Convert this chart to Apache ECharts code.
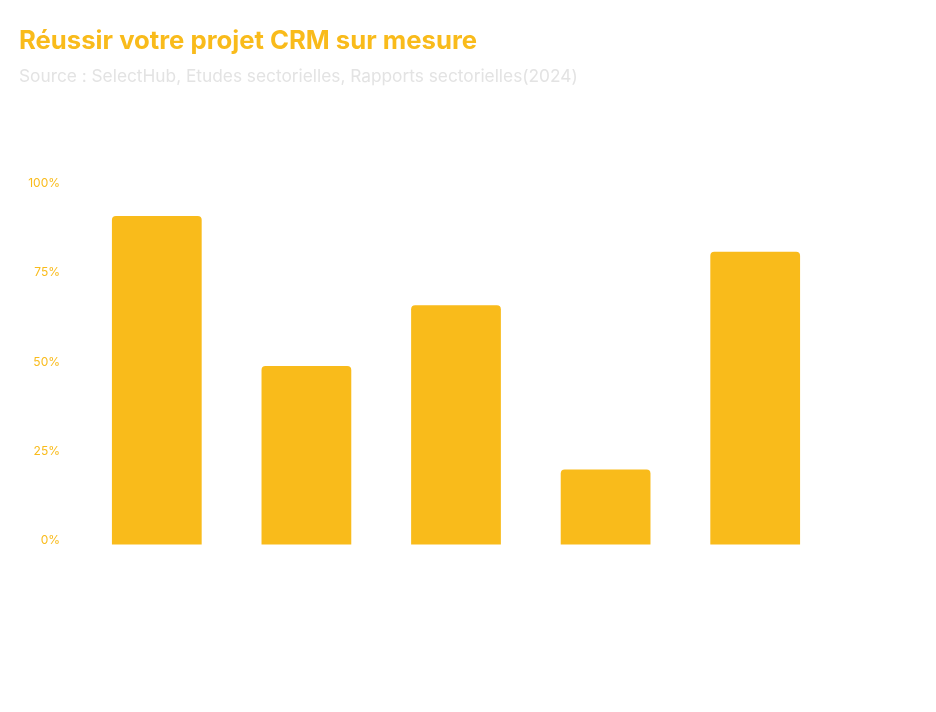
<!DOCTYPE html>
<html>
<head>
<meta charset="utf-8">
<script src="https://cdn.jsdelivr.net/npm/echarts@6/dist/echarts.min.js"></script>
<style>
  html, body { margin: 0; padding: 0; background: #fff; }
  #chart { width: 936px; height: 712px; }
</style>
</head>
<body>
<div id="chart"></div>
<script>
// Five CRM project factors, share in percent
const categories = ['A', 'B', 'C', 'D', 'E'];
const values = [92, 50, 67, 21, 82];
const yTicks = [0, 25, 50, 75, 100];

const yellow = '#F9BB1B';

const chart = echarts.init(document.getElementById('chart'), null, { renderer: 'canvas' });
chart.setOption({
  backgroundColor: '#ffffff',
  animation: false,
  title: {
    text: 'Réussir votre projet CRM sur mesure',
    subtext: 'Source : SelectHub, Etudes sectorielles, Rapports sectorielles(2024)',
    left: 14,
    top: 23,
    itemGap: 14,
    textStyle: { fontFamily: 'Inter', fontWeight: 'bold', fontSize: 25.7, color: yellow },
    subtextStyle: { fontFamily: 'Inter', fontSize: 17.3, color: '#e3e3e3' }
  },
  grid: { left: 82, right: 106, top: 187.5, bottom: 167.5, containLabel: false },
  xAxis: {
    type: 'category',
    data: categories,
    show: false
  },
  yAxis: {
    type: 'value',
    min: yTicks[0],
    max: yTicks[yTicks.length - 1],
    interval: 25,
    axisLine: { show: false },
    axisTick: { show: false },
    splitLine: { show: false },
    axisLabel: {
      margin: 22,
      formatter: '{value}%',
      color: yellow,
      fontFamily: 'Inter',
      fontSize: 12,
      verticalAlign: 'bottom',
      lineHeight: 8
    }
  },
  series: [{
    type: 'bar',
    data: values,
    barWidth: '60%',
    itemStyle: { color: yellow, borderRadius: [4, 4, 0, 0] }
  }]
});
</script>
</body>
</html>
